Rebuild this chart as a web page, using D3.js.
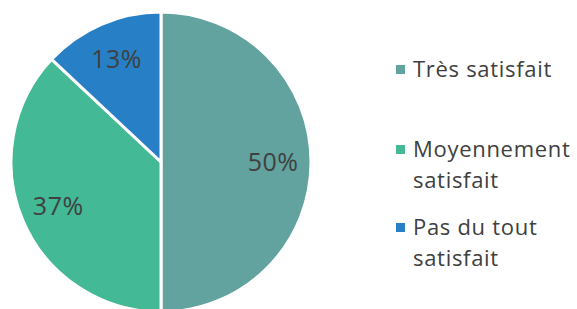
<!DOCTYPE html>
<meta charset="utf-8">
<body style="margin:0;background:#fff">
<script src="https://d3js.org/d3.v7.min.js"></script>
<script>
  // data
  var categories = ["Très satisfait", "Moyennement satisfait", "Pas du tout satisfait"];
  var values = [50, 37, 13];
  var legendLines = [["Très satisfait"], ["Moyennement", "satisfait"], ["Pas du tout", "satisfait"]];
  var colors = ["#62a39f", "#43b996", "#2780c6"];

  var svg = d3.select("body").append("svg")
      .attr("width", 577)
      .attr("height", 309)
      .style("font-family", "'Open Sans', Lato, sans-serif");

  var cx = 161, cy = 162, r = 150;
  var g = svg.append("g").attr("transform", "translate(" + cx + "," + cy + ")");

  var pie = d3.pie().sort(null).value(function(d) { return d; });
  var arc = d3.arc().innerRadius(0).outerRadius(r);
  var labelArc = d3.arc().innerRadius(112).outerRadius(112);

  var arcs = pie(values);

  g.selectAll("path")
      .data(arcs)
      .enter().append("path")
      .attr("d", arc)
      .attr("fill", function(d, i) { return colors[i]; })
      .attr("stroke", "#fff")
      .attr("stroke-width", 3)
      .attr("stroke-linejoin", "round");

  g.selectAll("text.lbl")
      .data(arcs)
      .enter().append("text")
      .attr("class", "lbl")
      .attr("transform", function(d) { return "translate(" + labelArc.centroid(d) + ")"; })
      .attr("text-anchor", "middle")
      .attr("dy", "0.36em")
      .attr("font-size", 25)
      .attr("letter-spacing", 0.5)
      .attr("fill", "#404040")
      .text(function(d) { return d.data + "%"; });

  // legend
  var legendY = [77, 157, 235];
  var leg = svg.selectAll("g.leg")
      .data(categories)
      .enter().append("g")
      .attr("class", "leg")
      .attr("transform", function(d, i) { return "translate(396," + legendY[i] + ")"; });

  leg.append("rect")
      .attr("x", 0).attr("y", -12)
      .attr("width", 9).attr("height", 9)
      .attr("fill", function(d, i) { return colors[i]; });

  leg.each(function(d, i) {
    var t = d3.select(this).append("text")
        .attr("x", 17)
        .attr("font-size", 22)
        .attr("letter-spacing", 0.7)
        .attr("fill", "#404040");
    legendLines[i].forEach(function(line, j) {
      t.append("tspan").attr("x", 17).attr("y", j * 31).text(line);
    });
  });
</script>
</body>
